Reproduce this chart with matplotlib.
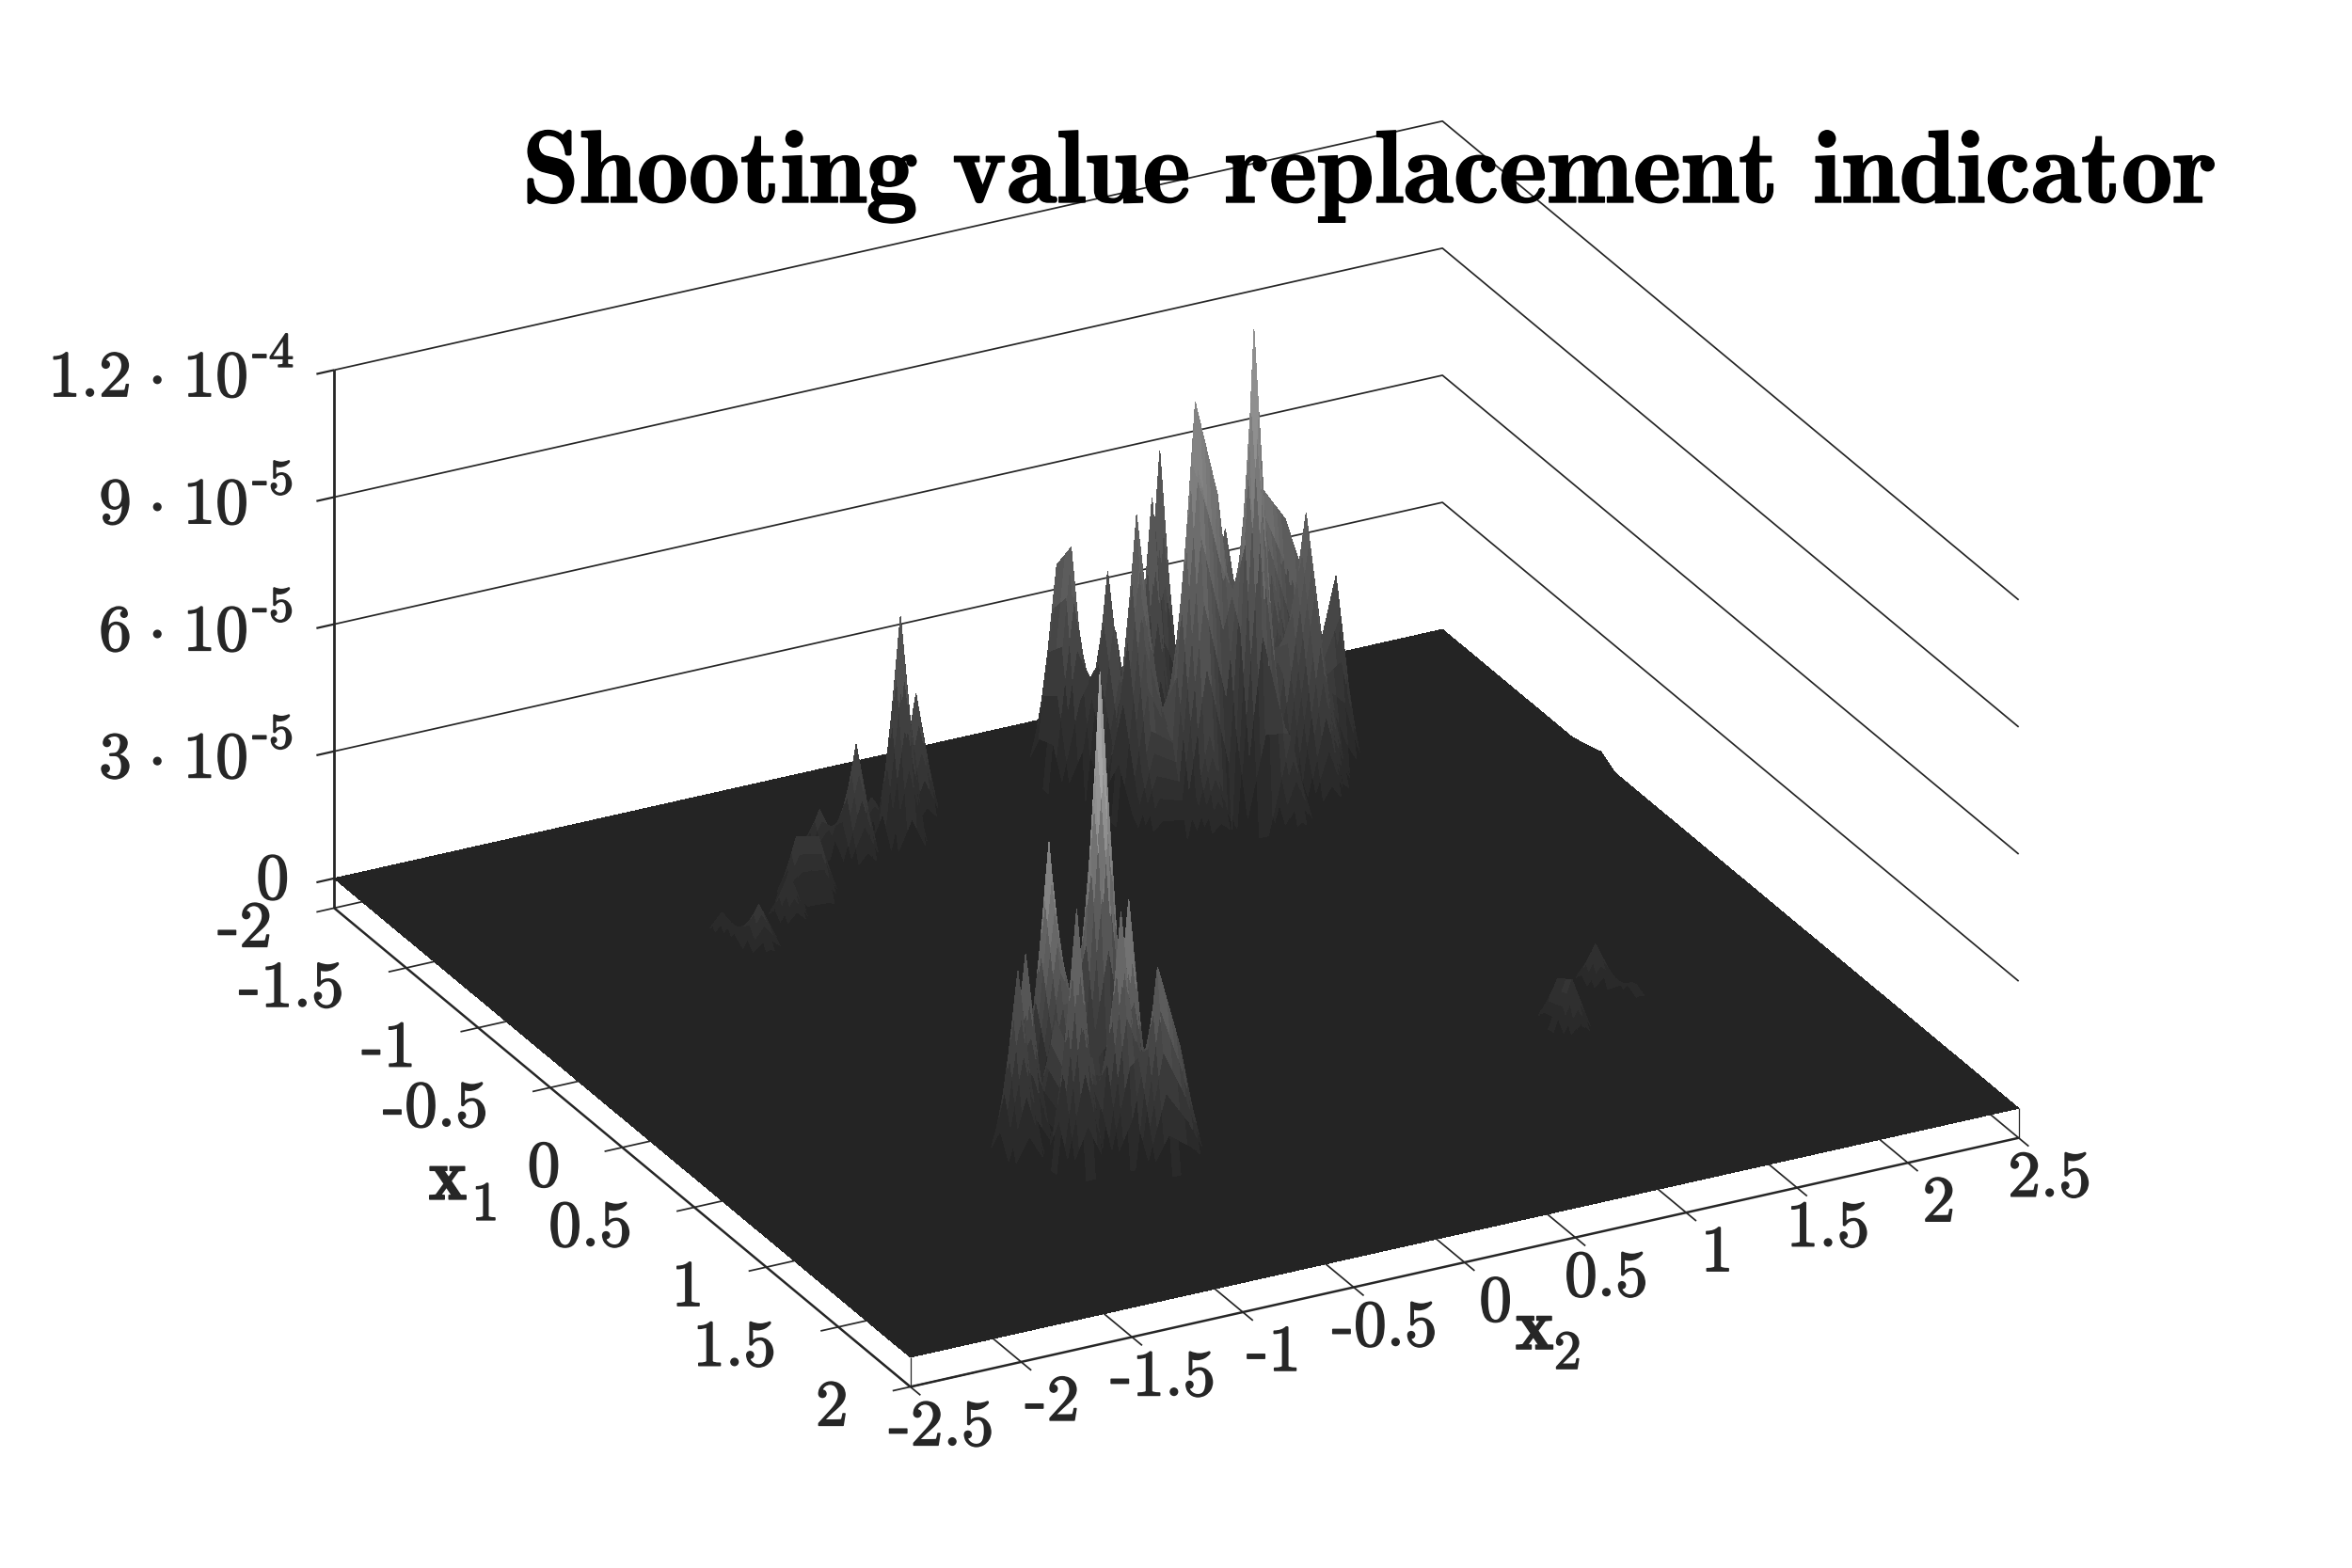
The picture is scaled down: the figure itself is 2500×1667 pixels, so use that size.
import matplotlib
matplotlib.use("Agg")
import matplotlib.patheffects as pe
import matplotlib.pyplot as plt
import numpy as np
from mpl_toolkits.mplot3d import proj3d

plt.rcParams["mathtext.fontset"] = "cm"

TITLE = "Shooting value replacement indicator"
INK = "#262626"
FLOOR_GREY = 0.141

# surface grid, step 0.1
x1_nodes = np.round(np.arange(-2.0, 2.01, 0.1), 1)
x2_nodes = np.round(np.arange(-2.5, 2.51, 0.1), 1)

# raised nodes: height in units of 1e-5, grey level at the node
back_x1 = [-1.5, -1.6, -1.4, -1.2, -1.4, -1.5, -1.1, -1.1, -1.2, -1.0, -1.4, -1.4, -1.4, -1.1, -1.2, -1.0,
           -1.4, -1.5, -1.3, -1.5, -1.1, -1.0, -1.1, -0.9, -1.3, -1.2, -1.2, -1.1, -1.0, -1.2, -1.1, -1.2,
           -1.2, -1.1, -1.2, -1.2, -1.3]
back_x2 = [0.5, 0.5, 0.6, 0.6, 0.8, 0.9, 0.8, 0.9, 1.0, 1.0, 1.3, 1.4, 1.5, 1.3, 1.5, 1.3,
           1.0, 1.1, 1.1, 0.7, 0.6, 0.8, 1.0, 1.1, 0.6, 0.7, 0.8, 0.7, 1.1, 1.2, 1.2, 1.3,
           1.4, 1.4, 0.9, 1.1, 1.3]
back_z = [5.7, 5.0, 5.3, 7.2, 6.8, 7.5, 9.9, 7.6, 6.4, 11.66, 6.4, 5.6, 3.9, 6.7, 4.7, 3.9,
          2.4, 3.0, 2.8, 3.5, 2.4, 2.4, 3.0, 2.2, 2.5, 2.5, 2.5, 2.0, 2.5, 3.5, 3.0, 2.5,
          2.5, 2.4, 3.0, 3.0, 3.5]
back_grey = [.40, .36, .34, .42, .42, .42, .56, .45, .34, .63, .46, .40, .36, .38, .30, .30,
             .26, .28, .26, .28, .25, .25, .28, .24, .26, .26, .27, .24, .26, .28, .27, .26,
             .26, .25, .27, .27, .28]

front_x1 = [0.7, 0.5, 0.8, 0.9, 1.0, 0.9, 1.0, 1.1, 1.1, 0.9, 0.8, 0.8, 0.6, 0.7, 0.7, 0.6]
front_x2 = [-0.8, -0.9, -1.2, -1.3, -1.1, -0.8, -0.9, -0.8, -0.7, -1.0, -1.0, -0.9, -0.9, -1.0, -0.7, -0.8]
front_z = [10.5, 6.04, 4.6, 4.6, 6.1, 5.7, 5.8, 4.67, 2.7, 2.2, 2.0, 1.8, 2.5, 2.5, 2.2, 2.5]
front_grey = [.74, .60, .40, .36, .48, .56, .50, .42, .32, .26, .28, .27, .30, .30, .30, .32]

left_x1 = [-1.3, -1.5, -1.3, -1.5, -1.4, -1.1, -1.1, -1.0, -0.9, -1.0]
left_x2 = [-0.4, -0.2, -0.6, -0.4, -0.7, -1.0, -0.9, -1.1, -1.3, -1.4]
left_z = [5.7, 3.06, 2.9, 0.85, 1.2, 1.76, 1.64, 1.3, 1.09, 0.73]
left_grey = [.38, .32, .30, .19, .22, .22, .22, .21, .24, .17]

right_x1 = [0.8, 0.9, 0.6, 0.7, 0.8, -0.9, -1.0]
right_x2 = [1.2, 1.2, 1.5, 1.6, 1.6, 2.5, 2.5]
right_z = [1.2, 1.45, 1.1, 0.35, 0.1, 0.22, 0.1]
right_grey = [.20, .21, .21, .16, .15, .145, .143]

x1_ticks = [-2, -1.5, -1, -0.5, 0, 0.5, 1, 1.5, 2]
x1_ticklabels = ["-2", "-1.5", "-1", "-0.5", "0", "0.5", "1", "1.5", "2"]
x2_ticks = [-2.5, -2, -1.5, -1, -0.5, 0, 0.5, 1, 1.5, 2, 2.5]
x2_ticklabels = ["-2.5", "-2", "-1.5", "-1", "-0.5", "0", "0.5", "1", "1.5", "2", "2.5"]
z_ticks = [0, 3e-5, 6e-5, 9e-5, 1.2e-4]
z_mantissas = ["0", "3", "6", "9", "1.2"]
z_exponents = ["", "-5", "-5", "-5", "-4"]
Z_FLOOR = -7e-6
SHADE_POWER = 1.5


def fine_cells(a, n):
    # split every mesh cell into n x n facets so the shading runs smoothly across it
    for axis in (0, 1):
        pos = np.arange((a.shape[axis] - 1) * n + 1) / n
        i0 = np.minimum(pos.astype(int), a.shape[axis] - 2)
        t = pos - i0
        shape = [1, 1]
        shape[axis] = -1
        t = t.reshape(shape)
        a = np.take(a, i0, axis=axis) * (1 - t) + np.take(a, i0 + 1, axis=axis) * t
    return a


def node_grids():
    z = np.zeros((len(x1_nodes), len(x2_nodes)))
    grey = np.full(z.shape, FLOOR_GREY)
    all_x1 = back_x1 + front_x1 + left_x1 + right_x1
    all_x2 = back_x2 + front_x2 + left_x2 + right_x2
    all_z = back_z + front_z + left_z + right_z
    all_grey = back_grey + front_grey + left_grey + right_grey
    for a, b, h, g in zip(all_x1, all_x2, all_z, all_grey):
        i = int(round((a + 2.0) * 10))
        j = int(round((b + 2.5) * 10))
        z[i, j] = h * 1e-5
        grey[i, j] = g
    return z, grey


fig = plt.figure(figsize=(25, 16.67), dpi=100)
ax = fig.add_axes([18 / 2500, -367 / 1667, 2400 / 2500, 2400 / 1667], projection="3d")
ax.set_proj_type("ortho")
ax.view_init(elev=25.6, azim=-27.47)
ax.set_box_aspect((1, 1, 0.4777), zoom=0.80165)
ax.set_xlim(-2, 2)
ax.set_ylim(-2.5, 2.5)
ax.set_zlim(Z_FLOOR, 1.2e-4)
ax.set_axis_off()
ax.computed_zorder = False

Z, grey = node_grids()
N_FINE = 5
xf = fine_cells(np.tile(x1_nodes[:, None], (1, len(x2_nodes))), N_FINE)
yf = fine_cells(np.tile(x2_nodes[None, :], (len(x1_nodes), 1)), N_FINE)
zf = fine_cells(Z, N_FINE)
# shade falls away faster than the height towards the foot of each spike
gf = fine_cells((grey - FLOOR_GREY) ** (1 / SHADE_POWER), N_FINE) ** SHADE_POWER
cell_grey = (gf[:-1, :-1] + gf[1:, :-1] + gf[:-1, 1:] + gf[1:, 1:]) / 4
cell_grey = FLOOR_GREY + np.round(cell_grey / 0.022) * 0.022
colors = np.dstack([cell_grey, cell_grey, cell_grey, np.ones_like(cell_grey)])
ax.plot_surface(xf, yf, zf, facecolors=colors, rstride=1, cstride=1, shade=False,
                linewidth=0, antialiased=False, zorder=2)

# box lines
line = dict(color=INK, zorder=1, solid_capstyle="butt")
ax.plot([-2, -2], [-2.5, -2.5], [Z_FLOOR, 1.2e-4], lw=2.0, **line)
ax.plot([-2, 2], [-2.5, -2.5], [Z_FLOOR, Z_FLOOR], lw=1.8, **line)
ax.plot([2, 2], [-2.5, 2.5], [Z_FLOOR, Z_FLOOR], lw=1.8, **line)
ax.plot([2, 2], [-2.5, -2.5], [Z_FLOOR, 0], lw=0.9, **line)
ax.plot([2, 2], [2.5, 2.5], [Z_FLOOR, 0], lw=0.9, **line)

for v in z_ticks[1:]:
    ax.plot([-2, -2, 2], [-2.5, 2.5, 2.5], [v, v, v], lw=1.25, **line)
for v in z_ticks:
    ax.plot([-2, -2], [-2.5, -2.58], [v, v], lw=1.6, **line)
for v in x1_ticks:
    ax.plot([v, v], [-2.58, -2.2], [Z_FLOOR, Z_FLOOR], lw=1.25, **line)
for v in x2_ticks:
    ax.plot([2.07, 1.6], [v, v], [Z_FLOOR, Z_FLOOR], lw=1.25, **line)


def put_text(x, y, z, text, dx, dy, ha="left", size=50, family="cmr10", color=INK, thick=1.1):
    px, py, _ = proj3d.proj_transform(x, y, z, ax.get_proj())
    ax.annotate(text, xy=(px, py), xytext=(dx, dy), textcoords="offset pixels",
                ha=ha, va="baseline", fontsize=size, family=family, color=color,
                annotation_clip=False, zorder=5,
                path_effects=[pe.withStroke(linewidth=thick, foreground=color)])


for v, label in zip(x1_ticks, x1_ticklabels):
    put_text(v, -2.5, Z_FLOOR, label, -66, -41, ha="right")
for v, label in zip(x2_ticks, x2_ticklabels):
    put_text(2, v, Z_FLOOR, label, 33, -62, ha="center")
for v, m, e in zip(z_ticks, z_mantissas, z_exponents):
    if e == "":
        put_text(-2, -2.5, v, m, -48, -21.5, ha="right")
    else:
        put_text(-2, -2.5, v, m + r"$\hspace{0.09}\cdot\hspace{0.09}$10", -92, -28, ha="right")
        put_text(-2, -2.5, v, e, -87, 3.5, size=38)

put_text(0, -2.5, Z_FLOOR, "x", -206, -55, size=56, family="cmb10")
put_text(0, -2.5, Z_FLOOR, "1", -160, -77, size=42)
put_text(2, 0, Z_FLOOR, "x", 54, -92, size=56, family="cmb10")
put_text(2, 0, Z_FLOOR, "2", 95, -113, size=42)

fig.text(555 / 2500, 1 - 215 / 1667, TITLE, family="cmb10", fontsize=79, color="black",
         ha="left", va="baseline",
         path_effects=[pe.withStroke(linewidth=1.0, foreground="black")])

fig.savefig("out.png", dpi=100, facecolor="white")
